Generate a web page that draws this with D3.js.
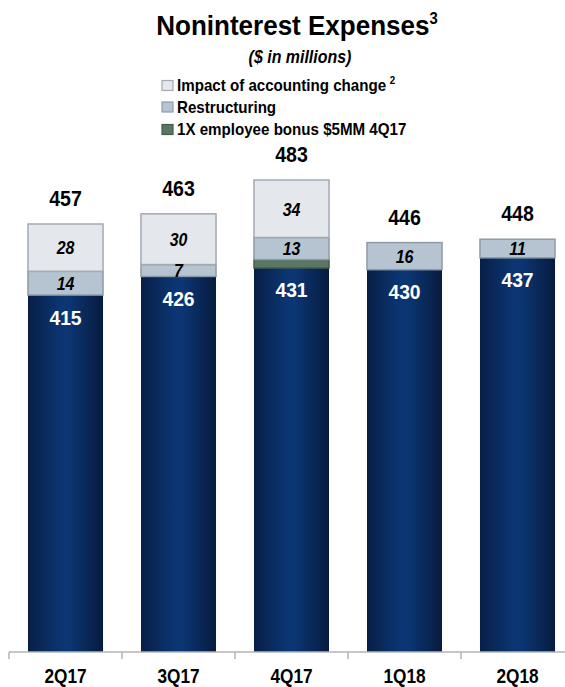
<!DOCTYPE html>
<html>
<head>
<meta charset="utf-8">
<script src="https://cdn.jsdelivr.net/npm/d3@7"></script>
<style>
  html, body { margin: 0; padding: 0; background: #fff; }
  svg text { font-family: "Liberation Sans", Arial, "Noto Sans", sans-serif; font-weight: bold; }
</style>
</head>
<body>
<svg id="chart" width="565" height="687"></svg>
<script>
// Quarterly noninterest expenses, $ in millions
const quarters = ["2Q17", "3Q17", "4Q17", "1Q18", "2Q18"];
const coreExpense = [415, 426, 431, 430, 437];
const employeeBonus = [0, 0, 5, 0, 0];
const restructuring = [14, 7, 13, 16, 11];
const accountingChange = [28, 30, 34, 0, 0];
const totals = [457, 463, 483, 446, 448];

const legendItems = [
  { key: "accounting", label: "Impact of accounting change", sup: "2" },
  { key: "restructuring", label: "Restructuring", sup: null },
  { key: "bonus", label: "1X employee bonus $5MM 4Q17", sup: null }
];

const svg = d3.select("#chart");
const defs = svg.append("defs");

// Navy bar shading: darker toward the edges
const navy = defs.append("linearGradient").attr("id", "navyGrad").attr("x1", "0").attr("x2", "1").attr("y1", "0").attr("y2", "0");
navy.append("stop").attr("offset", "0%").attr("stop-color", "#081f47");
navy.append("stop").attr("offset", "45%").attr("stop-color", "#0b3673");
navy.append("stop").attr("offset", "55%").attr("stop-color", "#0b3673");
navy.append("stop").attr("offset", "100%").attr("stop-color", "#071b3f");

const fills = {
  accounting: "#e4e7eb",
  restructuring: "#b6c4d2",
  bonus: "#5a7763"
};
const strokes = {
  accounting: "#a3aab2",
  restructuring: "#8f9ba7",
  bonus: "#465d4d"
};

// Condensed bold text: horizontally compressed around its anchor point
function narrowText(parent, px, py, str, size, squeeze, opts = {}) {
  const t = parent.append("text")
    .attr("transform", `translate(${px},${py}) scale(${squeeze},1)`)
    .attr("text-anchor", opts.anchor || "middle")
    .attr("font-size", size)
    .attr("fill", opts.fill || "#000");
  if (opts.italic) t.attr("font-style", "italic");
  if (str !== null) t.text(str);
  return t;
}

const x = d3.scaleBand()
  .domain(quarters)
  .range([9, 574])
  .paddingInner(0.336)
  .paddingOuter(0.168);

// Value axis is truncated; bars rise from the floor value
const y = d3.scaleLinear().domain([204, 483]).range([652, 180]);

// Build stacked segments
const rows = quarters.map((q, i) => ({
  quarter: q,
  core: coreExpense[i],
  bonus: employeeBonus[i],
  restructuring: restructuring[i],
  accounting: accountingChange[i],
  total: totals[i]
}));
const stack = d3.stack().keys(["core", "bonus", "restructuring", "accounting"]);
const series = stack(rows);

const bars = svg.append("g");
series.forEach(s => {
  s.forEach(d => {
    const v = d[1] - d[0];
    if (v <= 0) return;
    const key = s.key;
    const top = y(d[1]);
    const bottom = key === "core" ? y.range()[0] : y(d[0]);
    bars.append("rect")
      .attr("x", x(d.data.quarter))
      .attr("y", top)
      .attr("width", x.bandwidth())
      .attr("height", bottom - top)
      .attr("fill", key === "core" ? "url(#navyGrad)" : fills[key])
      .attr("stroke", key === "core" ? "none" : strokes[key])
      .attr("stroke-width", key === "core" ? 0 : 1.5);
  });
});

// Segment value labels
const labels = svg.append("g");
series.forEach(s => {
  s.forEach(d => {
    const v = d[1] - d[0];
    if (v <= 0) return;
    const cx = x(d.data.quarter) + x.bandwidth() / 2;
    if (s.key === "core") {
      narrowText(labels, cx, y(d[1]) + 29.5, v, 21, 0.92, { fill: "#ffffff" });
    } else if (s.key === "restructuring" || s.key === "accounting") {
      narrowText(labels, cx, (y(d[0]) + y(d[1])) / 2 + 6.8, v, 19, 0.84, { italic: true });
    }
  });
});

// Totals above each bar
rows.forEach(d => {
  narrowText(labels, x(d.quarter) + x.bandwidth() / 2, y(d.total) - 18, d.total, 22, 0.89);
});

// Category axis
const axisY = y.range()[0];
const axisG = svg.append("g");
axisG.append("line")
  .attr("x1", x.range()[0]).attr("x2", 565)
  .attr("y1", axisY).attr("y2", axisY)
  .attr("stroke", "#b3b3b3").attr("stroke-width", 1.5);
const boundaries = quarters.map((q, i) => x.range()[0] + i * x.step());
axisG.selectAll("line.tick")
  .data(boundaries)
  .join("line")
  .attr("class", "tick")
  .attr("x1", d => d).attr("x2", d => d)
  .attr("y1", axisY).attr("y2", axisY + 7)
  .attr("stroke", "#b3b3b3").attr("stroke-width", 1.5);
quarters.forEach(q => {
  narrowText(axisG, x(q) + x.bandwidth() / 2, 683, q, 21, 0.82);
});

// Title
const title = narrowText(svg, 297, 35, null, 28, 0.93);
title.append("tspan").text("Noninterest Expenses");
title.append("tspan").attr("font-size", 16).attr("dy", -11).text("3");

narrowText(svg, 300, 63, "($ in millions)", 19, 0.84, { italic: true });

// Legend
const legend = svg.append("g");
const legendBaselines = [91, 112.5, 135];
legendItems.forEach((item, i) => {
  const by = legendBaselines[i];
  legend.append("rect")
    .attr("x", 162).attr("y", by - 10.5)
    .attr("width", 11).attr("height", 10)
    .attr("fill", fills[item.key])
    .attr("stroke", strokes[item.key])
    .attr("stroke-width", 1.2);
  const t = narrowText(legend, 177, by, null, 17, 0.89, { anchor: "start" });
  t.append("tspan").text(item.label);
  if (item.sup) {
    t.append("tspan").attr("dx", 4).attr("dy", -7).attr("font-size", 11).text(item.sup);
  }
});
</script>
</body>
</html>
